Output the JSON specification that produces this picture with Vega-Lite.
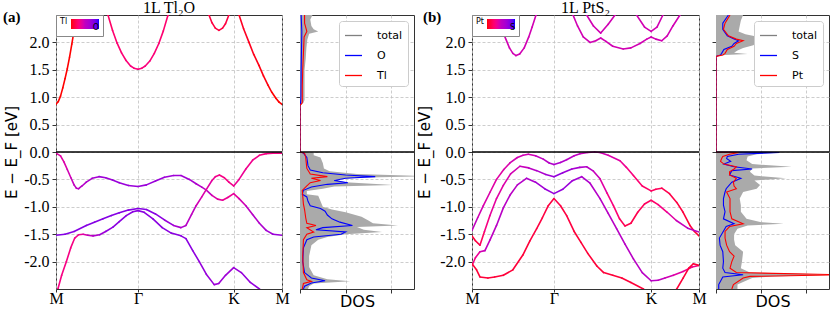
{
"$schema":"https://vega.github.io/schema/vega-lite/v6.json",
"padding":{"left":2,"top":-1,"right":0,"bottom":0},
"background":"white",
"datasets":{
"bandsA":[
{"b":"C1","k":0,"E":0.87,"w":0},{"b":"C1","k":0.01,"E":0.92,"w":0},{"b":"C1","k":0.02,"E":1.02,"w":0},{"b":"C1","k":0.03,"E":1.17,"w":0},{"b":"C1","k":0.04,"E":1.34,"w":0},{"b":"C1","k":0.05,"E":1.52,"w":0},{"b":"C1","k":0.06,"E":1.73,"w":0},{"b":"C1","k":0.07,"E":1.97,"w":0},{"b":"C1","k":0.08,"E":2.22,"w":0},{"b":"C1","k":0.09,"E":2.5,"w":0},{"b":"C1","k":0.11,"E":3.0,"w":0.05},{"b":"C1","k":0.15,"E":3.4,"w":0.1},{"b":"C1","k":0.19,"E":3.1,"w":0.15},{"b":"C1","k":0.21,"E":2.8,"w":0.2},{"b":"C1","k":0.23,"E":2.5,"w":0.22},{"b":"C1","k":0.25,"E":2.22,"w":0.24},{"b":"C1","k":0.27,"E":1.99,"w":0.25},{"b":"C1","k":0.29,"E":1.81,"w":0.26},{"b":"C1","k":0.31,"E":1.67,"w":0.27},{"b":"C1","k":0.33,"E":1.57,"w":0.28},{"b":"C1","k":0.345,"E":1.53,"w":0.28},{"b":"C1","k":0.363,"E":1.51,"w":0.28},{"b":"C1","k":0.38,"E":1.53,"w":0.28},{"b":"C1","k":0.395,"E":1.57,"w":0.28},{"b":"C1","k":0.415,"E":1.66,"w":0.27},{"b":"C1","k":0.435,"E":1.8,"w":0.26},{"b":"C1","k":0.455,"E":1.98,"w":0.25},{"b":"C1","k":0.475,"E":2.21,"w":0.24},{"b":"C1","k":0.495,"E":2.49,"w":0.22},{"b":"C1","k":0.52,"E":2.8,"w":0.2},{"b":"C1","k":0.56,"E":3.2,"w":0.15},{"b":"C1","k":0.65,"E":3.5,"w":0.1},{"b":"C1","k":0.75,"E":3.2,"w":0.05},{"b":"C1","k":0.79,"E":2.75,"w":0.05},{"b":"C1","k":0.81,"E":2.5,"w":0.05},{"b":"C1","k":0.83,"E":2.25,"w":0.05},{"b":"C1","k":0.854,"E":2.0,"w":0.04},{"b":"C1","k":0.875,"E":1.78,"w":0.03},{"b":"C1","k":0.898,"E":1.58,"w":0.02},{"b":"C1","k":0.918,"E":1.39,"w":0.02},{"b":"C1","k":0.938,"E":1.22,"w":0.01},{"b":"C1","k":0.955,"E":1.09,"w":0},{"b":"C1","k":0.973,"E":0.98,"w":0},{"b":"C1","k":0.987,"E":0.91,"w":0},{"b":"C1","k":1,"E":0.87,"w":0},
{"b":"C2","k":0.66,"E":2.78,"w":0.12},{"b":"C2","k":0.677,"E":2.5,"w":0.12},{"b":"C2","k":0.69,"E":2.36,"w":0.12},{"b":"C2","k":0.705,"E":2.26,"w":0.12},{"b":"C2","k":0.721,"E":2.22,"w":0.12},{"b":"C2","k":0.737,"E":2.26,"w":0.12},{"b":"C2","k":0.75,"E":2.34,"w":0.12},{"b":"C2","k":0.765,"E":2.5,"w":0.12},{"b":"C2","k":0.78,"E":2.72,"w":0.12},
{"b":"V1","k":0,"E":-0.02,"w":0.4},{"b":"V1","k":0.02,"E":-0.07,"w":0.4},{"b":"V1","k":0.035,"E":-0.18,"w":0.42},{"b":"V1","k":0.05,"E":-0.32,"w":0.45},{"b":"V1","k":0.066,"E":-0.47,"w":0.48},{"b":"V1","k":0.08,"E":-0.6,"w":0.5},{"b":"V1","k":0.09,"E":-0.66,"w":0.52},{"b":"V1","k":0.1,"E":-0.67,"w":0.55},{"b":"V1","k":0.115,"E":-0.62,"w":0.58},{"b":"V1","k":0.134,"E":-0.55,"w":0.62},{"b":"V1","k":0.16,"E":-0.48,"w":0.66},{"b":"V1","k":0.19,"E":-0.45,"w":0.7},{"b":"V1","k":0.22,"E":-0.47,"w":0.7},{"b":"V1","k":0.25,"E":-0.51,"w":0.72},{"b":"V1","k":0.28,"E":-0.56,"w":0.72},{"b":"V1","k":0.32,"E":-0.61,"w":0.72},{"b":"V1","k":0.363,"E":-0.63,"w":0.72},{"b":"V1","k":0.4,"E":-0.6,"w":0.72},{"b":"V1","k":0.44,"E":-0.53,"w":0.72},{"b":"V1","k":0.48,"E":-0.46,"w":0.7},{"b":"V1","k":0.52,"E":-0.43,"w":0.7},{"b":"V1","k":0.553,"E":-0.43,"w":0.68},{"b":"V1","k":0.59,"E":-0.5,"w":0.65},{"b":"V1","k":0.62,"E":-0.58,"w":0.6},{"b":"V1","k":0.645,"E":-0.64,"w":0.55},{"b":"V1","k":0.664,"E":-0.69,"w":0.5},{"b":"V1","k":0.69,"E":-0.79,"w":0.42},{"b":"V1","k":0.715,"E":-0.86,"w":0.38},{"b":"V1","k":0.737,"E":-0.88,"w":0.35},{"b":"V1","k":0.76,"E":-0.83,"w":0.35},{"b":"V1","k":0.786,"E":-0.76,"w":0.38},{"b":"V1","k":0.81,"E":-0.85,"w":0.45},{"b":"V1","k":0.84,"E":-0.98,"w":0.52},{"b":"V1","k":0.87,"E":-1.14,"w":0.58},{"b":"V1","k":0.9,"E":-1.3,"w":0.63},{"b":"V1","k":0.93,"E":-1.43,"w":0.68},{"b":"V1","k":0.96,"E":-1.5,"w":0.72},{"b":"V1","k":1,"E":-1.52,"w":0.75},
{"b":"V2","k":0,"E":-1.52,"w":0.8},{"b":"V2","k":0.04,"E":-1.5,"w":0.8},{"b":"V2","k":0.08,"E":-1.45,"w":0.8},{"b":"V2","k":0.134,"E":-1.34,"w":0.8},{"b":"V2","k":0.17,"E":-1.28,"w":0.8},{"b":"V2","k":0.208,"E":-1.22,"w":0.8},{"b":"V2","k":0.245,"E":-1.16,"w":0.8},{"b":"V2","k":0.28,"E":-1.11,"w":0.8},{"b":"V2","k":0.32,"E":-1.06,"w":0.8},{"b":"V2","k":0.363,"E":-1.03,"w":0.8},{"b":"V2","k":0.4,"E":-1.05,"w":0.8},{"b":"V2","k":0.44,"E":-1.13,"w":0.78},{"b":"V2","k":0.48,"E":-1.24,"w":0.72},{"b":"V2","k":0.52,"E":-1.34,"w":0.65},{"b":"V2","k":0.553,"E":-1.38,"w":0.6},{"b":"V2","k":0.575,"E":-1.34,"w":0.55},{"b":"V2","k":0.6,"E":-1.14,"w":0.5},{"b":"V2","k":0.62,"E":-0.98,"w":0.45},{"b":"V2","k":0.645,"E":-0.82,"w":0.42},{"b":"V2","k":0.664,"E":-0.69,"w":0.4},{"b":"V2","k":0.69,"E":-0.52,"w":0.35},{"b":"V2","k":0.705,"E":-0.45,"w":0.32},{"b":"V2","k":0.723,"E":-0.42,"w":0.3},{"b":"V2","k":0.745,"E":-0.47,"w":0.3},{"b":"V2","k":0.765,"E":-0.55,"w":0.32},{"b":"V2","k":0.786,"E":-0.62,"w":0.35},{"b":"V2","k":0.81,"E":-0.5,"w":0.35},{"b":"V2","k":0.84,"E":-0.31,"w":0.33},{"b":"V2","k":0.87,"E":-0.15,"w":0.32},{"b":"V2","k":0.9,"E":-0.06,"w":0.3},{"b":"V2","k":0.93,"E":-0.03,"w":0.3},{"b":"V2","k":0.96,"E":-0.02,"w":0.3},{"b":"V2","k":1,"E":-0.02,"w":0.3},
{"b":"V3","k":0,"E":-2.6,"w":0.3},{"b":"V3","k":0.009,"E":-2.49,"w":0.3},{"b":"V3","k":0.025,"E":-2.25,"w":0.3},{"b":"V3","k":0.046,"E":-2.0,"w":0.3},{"b":"V3","k":0.065,"E":-1.75,"w":0.3},{"b":"V3","k":0.083,"E":-1.57,"w":0.32},{"b":"V3","k":0.1,"E":-1.51,"w":0.36},{"b":"V3","k":0.12,"E":-1.5,"w":0.42},{"b":"V3","k":0.14,"E":-1.52,"w":0.5},{"b":"V3","k":0.164,"E":-1.53,"w":0.6},{"b":"V3","k":0.193,"E":-1.51,"w":0.7},{"b":"V3","k":0.22,"E":-1.45,"w":0.76},{"b":"V3","k":0.252,"E":-1.37,"w":0.78},{"b":"V3","k":0.28,"E":-1.27,"w":0.78},{"b":"V3","k":0.311,"E":-1.16,"w":0.78},{"b":"V3","k":0.34,"E":-1.09,"w":0.78},{"b":"V3","k":0.363,"E":-1.07,"w":0.78},{"b":"V3","k":0.39,"E":-1.1,"w":0.78},{"b":"V3","k":0.429,"E":-1.22,"w":0.78},{"b":"V3","k":0.47,"E":-1.38,"w":0.78},{"b":"V3","k":0.51,"E":-1.48,"w":0.78},{"b":"V3","k":0.553,"E":-1.53,"w":0.78},{"b":"V3","k":0.575,"E":-1.58,"w":0.78},{"b":"V3","k":0.605,"E":-1.8,"w":0.76},{"b":"V3","k":0.634,"E":-2.0,"w":0.74},{"b":"V3","k":0.665,"E":-2.23,"w":0.72},{"b":"V3","k":0.7,"E":-2.42,"w":0.7},{"b":"V3","k":0.72,"E":-2.4,"w":0.7},{"b":"V3","k":0.75,"E":-2.25,"w":0.7},{"b":"V3","k":0.786,"E":-2.11,"w":0.72},{"b":"V3","k":0.82,"E":-2.2,"w":0.74},{"b":"V3","k":0.86,"E":-2.38,"w":0.75},{"b":"V3","k":0.9,"E":-2.5,"w":0.75},{"b":"V3","k":0.95,"E":-2.75,"w":0.75},{"b":"V3","k":1,"E":-2.95,"w":0.75}
],
"bandsB":[
{"b":"CB1","k":0.09,"E":2.85,"w":0.45},{"b":"CB1","k":0.115,"E":2.5,"w":0.45},{"b":"CB1","k":0.14,"E":2.15,"w":0.45},{"b":"CB1","k":0.165,"E":1.9,"w":0.45},{"b":"CB1","k":0.18,"E":1.8,"w":0.45},{"b":"CB1","k":0.194,"E":1.76,"w":0.45},{"b":"CB1","k":0.21,"E":1.79,"w":0.45},{"b":"CB1","k":0.23,"E":1.9,"w":0.45},{"b":"CB1","k":0.25,"E":2.1,"w":0.45},{"b":"CB1","k":0.265,"E":2.28,"w":0.45},{"b":"CB1","k":0.282,"E":2.5,"w":0.45},{"b":"CB1","k":0.3,"E":2.75,"w":0.45},
{"b":"CB2","k":0.43,"E":2.75,"w":0.45},{"b":"CB2","k":0.445,"E":2.5,"w":0.45},{"b":"CB2","k":0.465,"E":2.3,"w":0.45},{"b":"CB2","k":0.49,"E":2.1,"w":0.45},{"b":"CB2","k":0.52,"E":2.0,"w":0.45},{"b":"CB2","k":0.545,"E":2.03,"w":0.45},{"b":"CB2","k":0.567,"E":2.08,"w":0.45},{"b":"CB2","k":0.59,"E":2.02,"w":0.45},{"b":"CB2","k":0.62,"E":1.93,"w":0.45},{"b":"CB2","k":0.666,"E":1.88,"w":0.45},{"b":"CB2","k":0.7,"E":1.9,"w":0.45},{"b":"CB2","k":0.74,"E":1.98,"w":0.45},{"b":"CB2","k":0.77,"E":2.06,"w":0.45},{"b":"CB2","k":0.789,"E":2.1,"w":0.45},{"b":"CB2","k":0.81,"E":2.06,"w":0.45},{"b":"CB2","k":0.836,"E":2.03,"w":0.45},{"b":"CB2","k":0.86,"E":2.12,"w":0.45},{"b":"CB2","k":0.885,"E":2.3,"w":0.45},{"b":"CB2","k":0.916,"E":2.5,"w":0.45},{"b":"CB2","k":0.94,"E":2.75,"w":0.45},
{"b":"CB3","k":0.48,"E":2.8,"w":0.45},{"b":"CB3","k":0.505,"E":2.5,"w":0.45},{"b":"CB3","k":0.535,"E":2.3,"w":0.45},{"b":"CB3","k":0.567,"E":2.17,"w":0.45},{"b":"CB3","k":0.6,"E":2.33,"w":0.45},{"b":"CB3","k":0.63,"E":2.5,"w":0.45},{"b":"CB3","k":0.66,"E":2.7,"w":0.45},{"b":"CB3","k":0.7,"E":2.75,"w":0.45},{"b":"CB3","k":0.725,"E":2.5,"w":0.45},{"b":"CB3","k":0.76,"E":2.28,"w":0.45},{"b":"CB3","k":0.789,"E":2.2,"w":0.45},{"b":"CB3","k":0.815,"E":2.28,"w":0.45},{"b":"CB3","k":0.841,"E":2.5,"w":0.45},{"b":"CB3","k":0.87,"E":2.75,"w":0.45},
{"b":"VB1","k":0,"E":-1.43,"w":0.5},{"b":"VB1","k":0.025,"E":-1.2,"w":0.45},{"b":"VB1","k":0.05,"E":-0.98,"w":0.42},{"b":"VB1","k":0.08,"E":-0.73,"w":0.4},{"b":"VB1","k":0.108,"E":-0.5,"w":0.4},{"b":"VB1","k":0.14,"E":-0.32,"w":0.42},{"b":"VB1","k":0.167,"E":-0.2,"w":0.45},{"b":"VB1","k":0.2,"E":-0.1,"w":0.45},{"b":"VB1","k":0.225,"E":-0.06,"w":0.45},{"b":"VB1","k":0.248,"E":-0.04,"w":0.45},{"b":"VB1","k":0.28,"E":-0.07,"w":0.5},{"b":"VB1","k":0.314,"E":-0.13,"w":0.55},{"b":"VB1","k":0.34,"E":-0.2,"w":0.6},{"b":"VB1","k":0.361,"E":-0.23,"w":0.62},{"b":"VB1","k":0.39,"E":-0.19,"w":0.6},{"b":"VB1","k":0.417,"E":-0.14,"w":0.55},{"b":"VB1","k":0.45,"E":-0.07,"w":0.5},{"b":"VB1","k":0.476,"E":-0.03,"w":0.48},{"b":"VB1","k":0.51,"E":-0.01,"w":0.45},{"b":"VB1","k":0.54,"E":0,"w":0.45},{"b":"VB1","k":0.564,"E":-0.01,"w":0.45},{"b":"VB1","k":0.6,"E":-0.06,"w":0.42},{"b":"VB1","k":0.652,"E":-0.16,"w":0.35},{"b":"VB1","k":0.68,"E":-0.28,"w":0.3},{"b":"VB1","k":0.711,"E":-0.43,"w":0.25},{"b":"VB1","k":0.75,"E":-0.62,"w":0.22},{"b":"VB1","k":0.789,"E":-0.71,"w":0.2},{"b":"VB1","k":0.81,"E":-0.68,"w":0.18},{"b":"VB1","k":0.836,"E":-0.66,"w":0.16},{"b":"VB1","k":0.87,"E":-0.76,"w":0.14},{"b":"VB1","k":0.902,"E":-0.92,"w":0.12},{"b":"VB1","k":0.93,"E":-1.1,"w":0.1},{"b":"VB1","k":0.96,"E":-1.34,"w":0.1},{"b":"VB1","k":0.98,"E":-1.45,"w":0.08},{"b":"VB1","k":1,"E":-1.53,"w":0.08},
{"b":"VB2","k":0,"E":-1.53,"w":0.1},{"b":"VB2","k":0.015,"E":-1.62,"w":0.12},{"b":"VB2","k":0.035,"E":-1.7,"w":0.2},{"b":"VB2","k":0.055,"E":-1.45,"w":0.3},{"b":"VB2","k":0.079,"E":-1.16,"w":0.38},{"b":"VB2","k":0.108,"E":-0.85,"w":0.4},{"b":"VB2","k":0.138,"E":-0.61,"w":0.42},{"b":"VB2","k":0.17,"E":-0.4,"w":0.45},{"b":"VB2","k":0.211,"E":-0.26,"w":0.48},{"b":"VB2","k":0.25,"E":-0.29,"w":0.55},{"b":"VB2","k":0.285,"E":-0.34,"w":0.62},{"b":"VB2","k":0.325,"E":-0.41,"w":0.7},{"b":"VB2","k":0.361,"E":-0.45,"w":0.75},{"b":"VB2","k":0.4,"E":-0.38,"w":0.72},{"b":"VB2","k":0.44,"E":-0.31,"w":0.65},{"b":"VB2","k":0.475,"E":-0.28,"w":0.6},{"b":"VB2","k":0.505,"E":-0.27,"w":0.55},{"b":"VB2","k":0.535,"E":-0.35,"w":0.48},{"b":"VB2","k":0.564,"E":-0.49,"w":0.4},{"b":"VB2","k":0.595,"E":-0.75,"w":0.3},{"b":"VB2","k":0.623,"E":-0.98,"w":0.25},{"b":"VB2","k":0.65,"E":-1.22,"w":0.18},{"b":"VB2","k":0.674,"E":-1.35,"w":0.15},{"b":"VB2","k":0.7,"E":-1.3,"w":0.15},{"b":"VB2","k":0.73,"E":-1.1,"w":0.18},{"b":"VB2","k":0.76,"E":-0.95,"w":0.2},{"b":"VB2","k":0.789,"E":-0.88,"w":0.22},{"b":"VB2","k":0.82,"E":-0.96,"w":0.3},{"b":"VB2","k":0.86,"E":-1.1,"w":0.4},{"b":"VB2","k":0.9,"E":-1.25,"w":0.48},{"b":"VB2","k":0.95,"E":-1.39,"w":0.55},{"b":"VB2","k":1,"E":-1.46,"w":0.6},
{"b":"VB3","k":0,"E":-2.07,"w":0.3},{"b":"VB3","k":0.015,"E":-1.93,"w":0.35},{"b":"VB3","k":0.035,"E":-1.82,"w":0.45},{"b":"VB3","k":0.057,"E":-1.8,"w":0.5},{"b":"VB3","k":0.08,"E":-1.6,"w":0.52},{"b":"VB3","k":0.108,"E":-1.34,"w":0.55},{"b":"VB3","k":0.138,"E":-1.02,"w":0.55},{"b":"VB3","k":0.167,"E":-0.79,"w":0.55},{"b":"VB3","k":0.2,"E":-0.6,"w":0.58},{"b":"VB3","k":0.24,"E":-0.48,"w":0.62},{"b":"VB3","k":0.28,"E":-0.55,"w":0.68},{"b":"VB3","k":0.32,"E":-0.67,"w":0.72},{"b":"VB3","k":0.361,"E":-0.76,"w":0.75},{"b":"VB3","k":0.4,"E":-0.68,"w":0.72},{"b":"VB3","k":0.44,"E":-0.53,"w":0.68},{"b":"VB3","k":0.483,"E":-0.45,"w":0.62},{"b":"VB3","k":0.52,"E":-0.57,"w":0.58},{"b":"VB3","k":0.564,"E":-0.85,"w":0.55},{"b":"VB3","k":0.6,"E":-1.12,"w":0.55},{"b":"VB3","k":0.637,"E":-1.4,"w":0.55},{"b":"VB3","k":0.674,"E":-1.68,"w":0.55},{"b":"VB3","k":0.711,"E":-1.95,"w":0.55},{"b":"VB3","k":0.75,"E":-2.2,"w":0.55},{"b":"VB3","k":0.789,"E":-2.35,"w":0.55},{"b":"VB3","k":0.82,"E":-2.34,"w":0.5},{"b":"VB3","k":0.85,"E":-2.3,"w":0.45},{"b":"VB3","k":0.887,"E":-2.25,"w":0.4},{"b":"VB3","k":0.93,"E":-2.18,"w":0.35},{"b":"VB3","k":0.97,"E":-2.1,"w":0.32},{"b":"VB3","k":1,"E":-2.07,"w":0.3},
{"b":"VB4","k":0,"E":-2.04,"w":0.1},{"b":"VB4","k":0.02,"E":-2.15,"w":0.1},{"b":"VB4","k":0.035,"E":-2.28,"w":0.1},{"b":"VB4","k":0.07,"E":-2.3,"w":0.1},{"b":"VB4","k":0.1,"E":-2.28,"w":0.1},{"b":"VB4","k":0.138,"E":-2.25,"w":0.1},{"b":"VB4","k":0.18,"E":-2.15,"w":0.1},{"b":"VB4","k":0.224,"E":-1.88,"w":0.1},{"b":"VB4","k":0.255,"E":-1.62,"w":0.12},{"b":"VB4","k":0.285,"E":-1.4,"w":0.12},{"b":"VB4","k":0.31,"E":-1.2,"w":0.12},{"b":"VB4","k":0.336,"E":-0.98,"w":0.12},{"b":"VB4","k":0.361,"E":-0.85,"w":0.15},{"b":"VB4","k":0.39,"E":-0.98,"w":0.12},{"b":"VB4","k":0.417,"E":-1.16,"w":0.12},{"b":"VB4","k":0.45,"E":-1.45,"w":0.1},{"b":"VB4","k":0.48,"E":-1.65,"w":0.1},{"b":"VB4","k":0.51,"E":-1.85,"w":0.1},{"b":"VB4","k":0.55,"E":-2.08,"w":0.1},{"b":"VB4","k":0.58,"E":-2.2,"w":0.1},{"b":"VB4","k":0.62,"E":-2.25,"w":0.1},{"b":"VB4","k":0.66,"E":-2.3,"w":0.1},{"b":"VB4","k":0.7,"E":-2.38,"w":0.1},{"b":"VB4","k":0.755,"E":-2.5,"w":0.1},{"b":"VB4","k":0.8,"E":-2.65,"w":0.1},{"b":"VB4","k":0.86,"E":-2.7,"w":0.1},{"b":"VB4","k":0.902,"E":-2.5,"w":0.1},{"b":"VB4","k":0.93,"E":-2.3,"w":0.1},{"b":"VB4","k":0.955,"E":-2.12,"w":0.1},{"b":"VB4","k":0.975,"E":-2.04,"w":0.1},{"b":"VB4","k":1,"E":-2.07,"w":0.1}
],
"dosA":[
{"s":"total","E":2.5,"d":0.55},{"s":"total","E":2.42,"d":0.45},{"s":"total","E":2.3,"d":0.5},{"s":"total","E":2.24,"d":0.6},{"s":"total","E":2.2,"d":0.8},{"s":"total","E":2.16,"d":0.4},{"s":"total","E":2.05,"d":0.32},{"s":"total","E":1.9,"d":0.28},{"s":"total","E":1.7,"d":0.25},{"s":"total","E":1.5,"d":0.2},{"s":"total","E":1.3,"d":0.2},{"s":"total","E":1.1,"d":0.2},{"s":"total","E":0.95,"d":0.2},{"s":"total","E":0.9,"d":0.15},{"s":"total","E":0.87,"d":0.08},{"s":"total","E":0.86,"d":0},{"s":"total","E":0.0,"d":0},{"s":"total","E":-0.02,"d":0.6},{"s":"total","E":-0.06,"d":0.6},{"s":"total","E":-0.1,"d":0.9},{"s":"total","E":-0.2,"d":1.0},{"s":"total","E":-0.3,"d":1.05},{"s":"total","E":-0.35,"d":1.3},{"s":"total","E":-0.4,"d":2.5},{"s":"total","E":-0.44,"d":5.5},{"s":"total","E":-0.47,"d":2.5},{"s":"total","E":-0.5,"d":1.5},{"s":"total","E":-0.55,"d":2.0},{"s":"total","E":-0.6,"d":4.1},{"s":"total","E":-0.63,"d":1.5},{"s":"total","E":-0.67,"d":1.0},{"s":"total","E":-0.71,"d":0.3},{"s":"total","E":-0.77,"d":0.3},{"s":"total","E":-0.8,"d":0.8},{"s":"total","E":-0.9,"d":0.9},{"s":"total","E":-1.0,"d":1.0},{"s":"total","E":-1.05,"d":1.4},{"s":"total","E":-1.1,"d":2.0},{"s":"total","E":-1.18,"d":2.7},{"s":"total","E":-1.25,"d":3.0},{"s":"total","E":-1.3,"d":3.2},{"s":"total","E":-1.34,"d":4.3},{"s":"total","E":-1.37,"d":2.5},{"s":"total","E":-1.42,"d":2.8},{"s":"total","E":-1.46,"d":3.6},{"s":"total","E":-1.5,"d":2.0},{"s":"total","E":-1.55,"d":1.2},{"s":"total","E":-1.6,"d":0.8},{"s":"total","E":-1.7,"d":0.5},{"s":"total","E":-1.9,"d":0.4},{"s":"total","E":-2.1,"d":0.4},{"s":"total","E":-2.25,"d":0.6},{"s":"total","E":-2.32,"d":1.2},{"s":"total","E":-2.36,"d":2.2},{"s":"total","E":-2.4,"d":0.6},{"s":"total","E":-2.45,"d":0.4},{"s":"total","E":-2.5,"d":0.35},
{"s":"O","E":2.5,"d":0.05},{"s":"O","E":2.2,"d":0.08},{"s":"O","E":1.5,"d":0.05},{"s":"O","E":1.0,"d":0.04},{"s":"O","E":0.87,"d":0.02},{"s":"O","E":0.86,"d":0},{"s":"O","E":0.0,"d":0},{"s":"O","E":-0.02,"d":0.15},{"s":"O","E":-0.1,"d":0.3},{"s":"O","E":-0.25,"d":0.35},{"s":"O","E":-0.33,"d":0.45},{"s":"O","E":-0.38,"d":1.0},{"s":"O","E":-0.42,"d":2.0},{"s":"O","E":-0.45,"d":3.3},{"s":"O","E":-0.48,"d":2.0},{"s":"O","E":-0.52,"d":1.5},{"s":"O","E":-0.56,"d":2.1},{"s":"O","E":-0.59,"d":1.2},{"s":"O","E":-0.64,"d":0.5},{"s":"O","E":-0.7,"d":0.15},{"s":"O","E":-0.77,"d":0.1},{"s":"O","E":-0.82,"d":0.3},{"s":"O","E":-0.9,"d":0.35},{"s":"O","E":-0.98,"d":0.45},{"s":"O","E":-1.03,"d":0.9},{"s":"O","E":-1.08,"d":1.1},{"s":"O","E":-1.15,"d":1.2},{"s":"O","E":-1.22,"d":1.4},{"s":"O","E":-1.28,"d":1.75},{"s":"O","E":-1.34,"d":2.3},{"s":"O","E":-1.38,"d":1.0},{"s":"O","E":-1.42,"d":0.7},{"s":"O","E":-1.46,"d":2.0},{"s":"O","E":-1.5,"d":1.8},{"s":"O","E":-1.55,"d":0.6},{"s":"O","E":-1.6,"d":0.3},{"s":"O","E":-1.75,"d":0.15},{"s":"O","E":-2.0,"d":0.12},{"s":"O","E":-2.2,"d":0.2},{"s":"O","E":-2.3,"d":0.5},{"s":"O","E":-2.35,"d":1.1},{"s":"O","E":-2.39,"d":0.5},{"s":"O","E":-2.45,"d":0.2},{"s":"O","E":-2.5,"d":0.15},
{"s":"Tl","E":2.5,"d":0.2},{"s":"Tl","E":2.35,"d":0.2},{"s":"Tl","E":2.2,"d":0.3},{"s":"Tl","E":2.1,"d":0.18},{"s":"Tl","E":1.8,"d":0.15},{"s":"Tl","E":1.5,"d":0.12},{"s":"Tl","E":1.2,"d":0.1},{"s":"Tl","E":0.9,"d":0.1},{"s":"Tl","E":0.87,"d":0.05},{"s":"Tl","E":0.86,"d":0},{"s":"Tl","E":0.0,"d":0},{"s":"Tl","E":-0.02,"d":0.2},{"s":"Tl","E":-0.1,"d":0.25},{"s":"Tl","E":-0.3,"d":0.3},{"s":"Tl","E":-0.4,"d":0.45},{"s":"Tl","E":-0.45,"d":1.2},{"s":"Tl","E":-0.48,"d":0.5},{"s":"Tl","E":-0.52,"d":0.9},{"s":"Tl","E":-0.56,"d":0.45},{"s":"Tl","E":-0.62,"d":0.3},{"s":"Tl","E":-0.7,"d":0.1},{"s":"Tl","E":-0.8,"d":0.12},{"s":"Tl","E":-0.95,"d":0.15},{"s":"Tl","E":-1.05,"d":0.2},{"s":"Tl","E":-1.2,"d":0.25},{"s":"Tl","E":-1.3,"d":0.3},{"s":"Tl","E":-1.34,"d":0.7},{"s":"Tl","E":-1.38,"d":0.3},{"s":"Tl","E":-1.46,"d":0.6},{"s":"Tl","E":-1.5,"d":0.3},{"s":"Tl","E":-1.6,"d":0.15},{"s":"Tl","E":-1.9,"d":0.12},{"s":"Tl","E":-2.2,"d":0.15},{"s":"Tl","E":-2.33,"d":0.3},{"s":"Tl","E":-2.36,"d":0.5},{"s":"Tl","E":-2.4,"d":0.15},{"s":"Tl","E":-2.5,"d":0.1}
],
"dosB":[
{"s":"total","E":2.5,"d":1.2},{"s":"total","E":2.4,"d":1.1},{"s":"total","E":2.3,"d":1.05},{"s":"total","E":2.2,"d":1.0},{"s":"total","E":2.15,"d":1.3},{"s":"total","E":2.1,"d":1.9},{"s":"total","E":2.06,"d":2.3},{"s":"total","E":2.03,"d":3.1},{"s":"total","E":2.0,"d":1.8},{"s":"total","E":1.95,"d":1.65},{"s":"total","E":1.9,"d":1.2},{"s":"total","E":1.85,"d":0.95},{"s":"total","E":1.81,"d":0.8},{"s":"total","E":1.79,"d":1.4},{"s":"total","E":1.77,"d":0.4},{"s":"total","E":1.75,"d":0.1},{"s":"total","E":1.74,"d":0},{"s":"total","E":0.0,"d":0},{"s":"total","E":-0.01,"d":3.0},{"s":"total","E":-0.04,"d":1.8},{"s":"total","E":-0.08,"d":1.4},{"s":"total","E":-0.15,"d":1.35},{"s":"total","E":-0.22,"d":1.6},{"s":"total","E":-0.27,"d":3.35},{"s":"total","E":-0.3,"d":1.6},{"s":"total","E":-0.36,"d":1.5},{"s":"total","E":-0.43,"d":1.7},{"s":"total","E":-0.48,"d":3.1},{"s":"total","E":-0.52,"d":1.7},{"s":"total","E":-0.6,"d":1.95},{"s":"total","E":-0.67,"d":1.8},{"s":"total","E":-0.73,"d":1.2},{"s":"total","E":-0.85,"d":1.05},{"s":"total","E":-0.97,"d":1.1},{"s":"total","E":-1.09,"d":1.1},{"s":"total","E":-1.22,"d":1.35},{"s":"total","E":-1.28,"d":2.0},{"s":"total","E":-1.31,"d":3.0},{"s":"total","E":-1.34,"d":1.4},{"s":"total","E":-1.4,"d":0.95},{"s":"total","E":-1.5,"d":0.8},{"s":"total","E":-1.6,"d":0.8},{"s":"total","E":-1.7,"d":0.85},{"s":"total","E":-1.82,"d":1.2},{"s":"total","E":-2.0,"d":1.15},{"s":"total","E":-2.12,"d":1.1},{"s":"total","E":-2.2,"d":1.5},{"s":"total","E":-2.24,"d":5.5},{"s":"total","E":-2.27,"d":2.5},{"s":"total","E":-2.3,"d":1.6},{"s":"total","E":-2.42,"d":0.95},{"s":"total","E":-2.5,"d":0.95},
{"s":"S","E":2.5,"d":0.55},{"s":"S","E":2.35,"d":0.3},{"s":"S","E":2.24,"d":0.3},{"s":"S","E":2.12,"d":0.5},{"s":"S","E":2.06,"d":0.8},{"s":"S","E":2.03,"d":1.0},{"s":"S","E":1.98,"d":0.8},{"s":"S","E":1.93,"d":0.7},{"s":"S","E":1.87,"d":0.35},{"s":"S","E":1.8,"d":0.25},{"s":"S","E":1.77,"d":0.2},{"s":"S","E":1.75,"d":0.05},{"s":"S","E":1.74,"d":0},{"s":"S","E":0.0,"d":0},{"s":"S","E":-0.01,"d":2.8},{"s":"S","E":-0.04,"d":1.0},{"s":"S","E":-0.08,"d":0.5},{"s":"S","E":-0.12,"d":0.47},{"s":"S","E":-0.17,"d":0.65},{"s":"S","E":-0.22,"d":0.35},{"s":"S","E":-0.27,"d":0.8},{"s":"S","E":-0.31,"d":1.6},{"s":"S","E":-0.34,"d":0.7},{"s":"S","E":-0.42,"d":0.6},{"s":"S","E":-0.48,"d":1.1},{"s":"S","E":-0.55,"d":0.7},{"s":"S","E":-0.67,"d":0.45},{"s":"S","E":-0.73,"d":0.4},{"s":"S","E":-0.85,"d":0.33},{"s":"S","E":-0.97,"d":0.33},{"s":"S","E":-1.09,"d":0.4},{"s":"S","E":-1.22,"d":0.33},{"s":"S","E":-1.31,"d":0.8},{"s":"S","E":-1.36,"d":0.45},{"s":"S","E":-1.5,"d":0.25},{"s":"S","E":-1.57,"d":0.15},{"s":"S","E":-1.7,"d":0.18},{"s":"S","E":-1.82,"d":0.3},{"s":"S","E":-2.0,"d":0.33},{"s":"S","E":-2.12,"d":0.3},{"s":"S","E":-2.2,"d":0.4},{"s":"S","E":-2.24,"d":1.2},{"s":"S","E":-2.28,"d":0.3},{"s":"S","E":-2.42,"d":0.12},{"s":"S","E":-2.5,"d":0.12},
{"s":"Pt","E":2.5,"d":0.62},{"s":"Pt","E":2.35,"d":0.4},{"s":"Pt","E":2.24,"d":0.33},{"s":"Pt","E":2.12,"d":0.55},{"s":"Pt","E":2.06,"d":0.9},{"s":"Pt","E":2.03,"d":1.2},{"s":"Pt","E":1.98,"d":0.9},{"s":"Pt","E":1.93,"d":0.8},{"s":"Pt","E":1.87,"d":0.5},{"s":"Pt","E":1.8,"d":0.4},{"s":"Pt","E":1.77,"d":0.3},{"s":"Pt","E":1.75,"d":0.05},{"s":"Pt","E":1.74,"d":0},{"s":"Pt","E":0.0,"d":0},{"s":"Pt","E":-0.01,"d":1.0},{"s":"Pt","E":-0.04,"d":0.6},{"s":"Pt","E":-0.08,"d":0.3},{"s":"Pt","E":-0.12,"d":0.25},{"s":"Pt","E":-0.17,"d":0.2},{"s":"Pt","E":-0.22,"d":0.35},{"s":"Pt","E":-0.27,"d":0.9},{"s":"Pt","E":-0.31,"d":0.8},{"s":"Pt","E":-0.36,"d":0.6},{"s":"Pt","E":-0.42,"d":0.6},{"s":"Pt","E":-0.48,"d":0.9},{"s":"Pt","E":-0.55,"d":0.77},{"s":"Pt","E":-0.62,"d":0.8},{"s":"Pt","E":-0.67,"d":0.9},{"s":"Pt","E":-0.73,"d":0.47},{"s":"Pt","E":-0.85,"d":0.62},{"s":"Pt","E":-0.97,"d":0.62},{"s":"Pt","E":-1.09,"d":0.62},{"s":"Pt","E":-1.22,"d":0.7},{"s":"Pt","E":-1.31,"d":1.2},{"s":"Pt","E":-1.36,"d":0.6},{"s":"Pt","E":-1.45,"d":0.4},{"s":"Pt","E":-1.57,"d":0.4},{"s":"Pt","E":-1.7,"d":0.47},{"s":"Pt","E":-1.82,"d":0.6},{"s":"Pt","E":-1.9,"d":0.8},{"s":"Pt","E":-2.0,"d":0.7},{"s":"Pt","E":-2.12,"d":0.62},{"s":"Pt","E":-2.2,"d":0.9},{"s":"Pt","E":-2.24,"d":5.5},{"s":"Pt","E":-2.27,"d":1.5},{"s":"Pt","E":-2.3,"d":1.2},{"s":"Pt","E":-2.42,"d":0.77},{"s":"Pt","E":-2.5,"d":0.7}
]
},
"hconcat":[
{"hconcat":[
{"width":226,"height":274,
"title":{"text":"1L Tl₂O","font":"Liberation Serif","fontSize":16,"fontWeight":"normal","offset":-6,"color":"#000000"},
"layer":[
{"data":{"name":"bandsA"},
"transform":[{"window":[{"op":"lead","field":"k","as":"k2"},{"op":"lead","field":"E","as":"E2"}],"groupby":["b"],"sort":[{"field":"k","order":"ascending"}]},{"filter":"isValid(datum.k2)"}],
"mark":{"type":"rule","strokeWidth":1.6,"strokeCap":"round","clip":true},
"encoding":{
"x":{"field":"k","type":"quantitative","scale":{"domain":[0,1],"nice":false,"zero":false},"axis":{"values":[0,0.363,0.786,1],"labelExpr":"datum.value == 0 || datum.value == 1 ? 'M' : datum.value < 0.5 ? 'Γ' : 'K'","title":null,"grid":true,"tickSize":3,"labelPadding":-2,"labelFont":"Liberation Serif","labelFontSize":16,"labelFlush":false,"labelOverlap":false,"labelBound":false}},
"x2":{"field":"k2"},
"y":{"field":"E","type":"quantitative","scale":{"domain":[-2.5,2.5],"nice":false,"zero":false},"axis":{"tickCount":10,"values":[-2,-1.5,-1,-0.5,0,0.5,1,1.5,2],"labelExpr":"abs(datum.value) > 2.4 ? '' : datum.value < 0 ? '-' + format(-datum.value, '.1f') : format(datum.value, '.1f')","labelOverlap":false,"title":"E − E_F [eV]","titleFont":"DejaVu Sans","titleFontSize":15,"titlePadding":4,"grid":true,"tickSize":4,"labelPadding":3,"labelFont":"Liberation Serif","labelFontSize":16}},
"y2":{"field":"E2"},
"color":{"field":"w","type":"quantitative","scale":{"domain":[0,0.5,1],"range":["#ff0000","#c000c0","#0000ff"]},"legend":{"orient":"top-left","offset":0,"direction":"horizontal","gradientLength":28,"gradientThickness":10,"title":"Tl","titleOrient":"left","titleFont":"DejaVu Sans","titleFontSize":8,"titleFontWeight":"normal","titlePadding":3,"values":[0,1],"labelExpr":"datum.value >= 1 ? '\u2003\u2009O' : ''","labelBaseline":"middle","labelOffset":-5,"labelFont":"DejaVu Sans","labelFontSize":8,"labelFlush":false,"labelOverlap":false,"padding":4,"strokeColor":"#888888","fillColor":"#ffffff","cornerRadius":0,"gradientStrokeWidth":0}}
}},
{"data":{"values":[{}]},"mark":{"type":"rule","color":"#000000","strokeWidth":1.6},"encoding":{"y":{"datum":0}}},
{"data":{"values":[{}]},"mark":{"type":"text","text":"(a)","font":"Liberation Serif","fontSize":15,"fontWeight":"bold","align":"left","baseline":"middle","color":"#000000"},"encoding":{"x":{"datum":-0.235},"y":{"datum":2.47}}}
]},
{"width":114,"height":274,
"layer":[
{"data":{"name":"dosA"},"transform":[{"filter":"datum.s == 'total'"}],"mark":{"type":"area","orient":"horizontal","color":"#aaaaaa","clip":true},
"encoding":{"x":{"field":"d","type":"quantitative","scale":{"domain":[0,5],"nice":false},"axis":{"values":[0,1,2,3,4,5],"labels":false,"tickSize":4,"title":"DOS","titleFont":"DejaVu Sans","titleFontSize":16,"titleFontWeight":"normal","titlePadding":0,"grid":true}},
"y":{"field":"E","type":"quantitative","scale":{"domain":[-2.5,2.5],"nice":false,"zero":false},"axis":{"tickCount":10,"values":[-2,-1.5,-1,-0.5,0,0.5,1,1.5,2],"labels":false,"tickSize":4,"title":null,"grid":true}}}},
{"data":{"name":"dosA"},"transform":[{"filter":"datum.s != 'total'"}],"mark":{"type":"line","clip":true,"strokeWidth":1.1},
"encoding":{"x":{"field":"d","type":"quantitative"},"y":{"field":"E","type":"quantitative"},"order":{"field":"E","type":"quantitative"},
"stroke":{"field":"s","type":"nominal","scale":{"domain":["total","O","Tl"],"range":["#808080","#0000ff","#ff0000"]},"legend":{"orient":"top-right","offset":6,"title":null,"symbolType":"stroke","symbolSize":289,"symbolStrokeWidth":1.3,"labelFont":"DejaVu Sans","labelFontSize":11,"labelOffset":14,"rowPadding":5,"padding":5,"fillColor":"#ffffff","strokeColor":"#cccccc","cornerRadius":3}}}},
{"data":{"values":[{}]},"mark":{"type":"rule","color":"#000000","strokeWidth":1.6},"encoding":{"y":{"datum":0}}}
]}
],"spacing":5,"resolve":{"scale":{"color":"independent","stroke":"independent"},"legend":{"color":"independent","stroke":"independent"}}},
{"hconcat":[
{"width":227,"height":274,
"title":{"text":"1L PtS₂","font":"Liberation Serif","fontSize":16,"fontWeight":"normal","offset":-6,"color":"#000000"},
"layer":[
{"data":{"name":"bandsB"},
"transform":[{"window":[{"op":"lead","field":"k","as":"k2"},{"op":"lead","field":"E","as":"E2"}],"groupby":["b"],"sort":[{"field":"k","order":"ascending"}]},{"filter":"isValid(datum.k2)"}],
"mark":{"type":"rule","strokeWidth":1.6,"strokeCap":"round","clip":true},
"encoding":{
"x":{"field":"k","type":"quantitative","scale":{"domain":[0,1],"nice":false,"zero":false},"axis":{"values":[0,0.361,0.789,1],"labelExpr":"datum.value == 0 || datum.value == 1 ? 'M' : datum.value < 0.5 ? 'Γ' : 'K'","title":null,"grid":true,"tickSize":3,"labelPadding":-2,"labelFont":"Liberation Serif","labelFontSize":16,"labelFlush":false,"labelOverlap":false,"labelBound":false}},
"x2":{"field":"k2"},
"y":{"field":"E","type":"quantitative","scale":{"domain":[-2.5,2.5],"nice":false,"zero":false},"axis":{"tickCount":10,"values":[-2,-1.5,-1,-0.5,0,0.5,1,1.5,2],"labelExpr":"abs(datum.value) > 2.4 ? '' : datum.value < 0 ? '-' + format(-datum.value, '.1f') : format(datum.value, '.1f')","labelOverlap":false,"title":"E − E_F [eV]","titleFont":"DejaVu Sans","titleFontSize":15,"titlePadding":7,"grid":true,"tickSize":4,"labelPadding":3,"labelFont":"Liberation Serif","labelFontSize":16}},
"y2":{"field":"E2"},
"color":{"field":"w","type":"quantitative","scale":{"domain":[0,0.5,1],"range":["#ff0000","#c000c0","#0000ff"]},"legend":{"orient":"top-left","offset":0,"direction":"horizontal","gradientLength":28,"gradientThickness":10,"title":"Pt","titleOrient":"left","titleFont":"DejaVu Sans","titleFontSize":8,"titleFontWeight":"normal","titlePadding":3,"values":[0,1],"labelExpr":"datum.value >= 1 ? '\u2003\u2009S' : ''","labelBaseline":"middle","labelOffset":-5,"labelFont":"DejaVu Sans","labelFontSize":8,"labelFlush":false,"labelOverlap":false,"padding":4,"strokeColor":"#888888","fillColor":"#ffffff","cornerRadius":0,"gradientStrokeWidth":0}}
}},
{"data":{"values":[{}]},"mark":{"type":"rule","color":"#000000","strokeWidth":1.6},"encoding":{"y":{"datum":0}}},
{"data":{"values":[{}]},"mark":{"type":"text","text":"(b)","font":"Liberation Serif","fontSize":15,"fontWeight":"bold","align":"left","baseline":"middle","color":"#000000"},"encoding":{"x":{"datum":-0.216},"y":{"datum":2.47}}}
]},
{"width":113,"height":274,
"layer":[
{"data":{"name":"dosB"},"transform":[{"filter":"datum.s == 'total'"}],"mark":{"type":"area","orient":"horizontal","color":"#aaaaaa","clip":true},
"encoding":{"x":{"field":"d","type":"quantitative","scale":{"domain":[0,5],"nice":false},"axis":{"values":[0,1,2,3,4,5],"labels":false,"tickSize":4,"title":"DOS","titleFont":"DejaVu Sans","titleFontSize":16,"titleFontWeight":"normal","titlePadding":0,"grid":true}},
"y":{"field":"E","type":"quantitative","scale":{"domain":[-2.5,2.5],"nice":false,"zero":false},"axis":{"tickCount":10,"values":[-2,-1.5,-1,-0.5,0,0.5,1,1.5,2],"labels":false,"tickSize":4,"title":null,"grid":true}}}},
{"data":{"name":"dosB"},"transform":[{"filter":"datum.s != 'total'"}],"mark":{"type":"line","clip":true,"strokeWidth":1.1},
"encoding":{"x":{"field":"d","type":"quantitative"},"y":{"field":"E","type":"quantitative"},"order":{"field":"E","type":"quantitative"},
"stroke":{"field":"s","type":"nominal","scale":{"domain":["total","S","Pt"],"range":["#808080","#0000ff","#ff0000"]},"legend":{"orient":"top-right","offset":6,"title":null,"symbolType":"stroke","symbolSize":289,"symbolStrokeWidth":1.3,"labelFont":"DejaVu Sans","labelFontSize":11,"labelOffset":14,"rowPadding":5,"padding":5,"fillColor":"#ffffff","strokeColor":"#cccccc","cornerRadius":3}}}},
{"data":{"values":[{}]},"mark":{"type":"rule","color":"#000000","strokeWidth":1.6},"encoding":{"y":{"datum":0}}}
]}
],"spacing":4,"resolve":{"scale":{"color":"independent","stroke":"independent"},"legend":{"color":"independent","stroke":"independent"}}}
],
"spacing":1,
"resolve":{"scale":{"color":"independent","stroke":"independent"},"legend":{"color":"independent","stroke":"independent"}},
"config":{
"view":{"stroke":"#333333","strokeWidth":1},
"axis":{"gridDash":[3,2],"gridColor":"#c0c0c0","gridWidth":0.8,"tickColor":"#333333","domain":false,"labelColor":"#000000","titleColor":"#000000","titleFontWeight":"normal"},
"legend":{"labelColor":"#000000","titleColor":"#000000"}
}
}
